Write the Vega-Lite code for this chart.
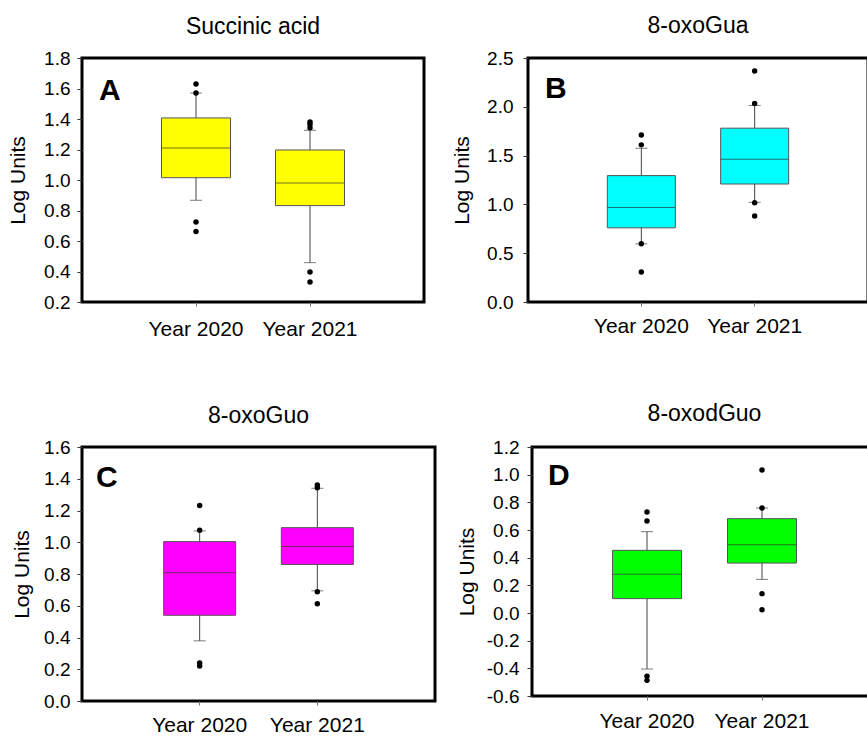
{
  "$schema": "https://vega.github.io/schema/vega-lite/v6.json",
  "background": "white",
  "padding": {"left": 6, "top": 13, "right": 0, "bottom": 0},
  "align": "none",
  "config": {
    "font": "Liberation Sans",
    "view": {"stroke": "black", "strokeWidth": 3},
    "axis": {"grid": false, "domain": false, "labelColor": "black", "titleColor": "black", "labelFont": "Liberation Sans", "titleFont": "Liberation Sans", "labelOverlap": false, "labelFlush": false, "labelBound": false},
    "axisY": {"tickSize": 5, "tickColor": "#333", "labelFontSize": 19, "titleFontSize": 21, "titleFontWeight": "normal", "labelOverlap": false, "tickCount": 20},
    "axisX": {"tickSize": 4, "tickColor": "#777", "labelFontSize": 21, "labelAngle": 0},
    "title": {"fontSize": 23, "fontWeight": "normal", "color": "black", "frame": "group", "anchor": "middle"}
  },
  "datasets": {
    "boxA": [
      {"year": "Year 2020", "lo": 0.867, "q1": 1.015, "median": 1.21, "q3": 1.407, "hi": 1.57},
      {"year": "Year 2021", "lo": 0.458, "q1": 0.832, "median": 0.98, "q3": 1.197, "hi": 1.326}
    ],
    "outA": [
      {"year": "Year 2020", "value": 1.63},
      {"year": "Year 2020", "value": 1.57},
      {"year": "Year 2020", "value": 0.725},
      {"year": "Year 2020", "value": 0.663},
      {"year": "Year 2021", "value": 1.38},
      {"year": "Year 2021", "value": 1.365},
      {"year": "Year 2021", "value": 1.343},
      {"year": "Year 2021", "value": 0.397},
      {"year": "Year 2021", "value": 0.331}
    ],
    "boxB": [
      {"year": "Year 2020", "lo": 0.596, "q1": 0.76, "median": 0.969, "q3": 1.295, "hi": 1.575},
      {"year": "Year 2021", "lo": 1.021, "q1": 1.209, "median": 1.462, "q3": 1.781, "hi": 2.014}
    ],
    "outB": [
      {"year": "Year 2020", "value": 1.712},
      {"year": "Year 2020", "value": 1.61},
      {"year": "Year 2020", "value": 0.596},
      {"year": "Year 2020", "value": 0.308},
      {"year": "Year 2021", "value": 2.366},
      {"year": "Year 2021", "value": 2.034},
      {"year": "Year 2021", "value": 1.017},
      {"year": "Year 2021", "value": 0.88}
    ],
    "boxC": [
      {"year": "Year 2020", "lo": 0.379, "q1": 0.54, "median": 0.808, "q3": 1.004, "hi": 1.071},
      {"year": "Year 2021", "lo": 0.694, "q1": 0.86, "median": 0.973, "q3": 1.092, "hi": 1.34}
    ],
    "outC": [
      {"year": "Year 2020", "value": 1.231},
      {"year": "Year 2020", "value": 1.075},
      {"year": "Year 2020", "value": 0.24},
      {"year": "Year 2020", "value": 0.221},
      {"year": "Year 2021", "value": 1.36},
      {"year": "Year 2021", "value": 1.344},
      {"year": "Year 2021", "value": 0.6875},
      {"year": "Year 2021", "value": 0.6125}
    ],
    "boxD": [
      {"year": "Year 2020", "lo": -0.405, "q1": 0.104, "median": 0.28, "q3": 0.453, "hi": 0.588},
      {"year": "Year 2021", "lo": 0.243, "q1": 0.361, "median": 0.494, "q3": 0.682, "hi": 0.759}
    ],
    "outD": [
      {"year": "Year 2020", "value": 0.73},
      {"year": "Year 2020", "value": 0.665},
      {"year": "Year 2020", "value": -0.458},
      {"year": "Year 2020", "value": -0.487},
      {"year": "Year 2021", "value": 1.034},
      {"year": "Year 2021", "value": 0.759},
      {"year": "Year 2021", "value": 0.14},
      {"year": "Year 2021", "value": 0.024}
    ]
  },
  "vconcat": [
    {
      "hconcat": [
        {
          "title": {"text": "Succinic acid", "offset": 10},
          "width": 342, "height": 244,
          "layer": [
            {
              "data": {"name": "boxA"},
              "mark": {"type": "rule", "color": "#444", "strokeWidth": 1},
              "encoding": {
                "x": {"field": "year", "type": "nominal", "title": null, "scale": {"paddingInner": 0, "paddingOuter": 0.5}, "axis": {"labelPadding": 12}},
                "y": {"field": "lo", "type": "quantitative", "title": "Log Units", "scale": {"domain": [0.2, 1.8], "nice": false, "zero": false}, "axis": {"values": [0.2, 0.4, 0.6, 0.8, 1.0, 1.2, 1.4, 1.6, 1.8], "tickCount": 20, "format": ".1f", "labelOverlap": false, "labelPadding": 7, "titlePadding": 15}},
                "y2": {"field": "hi"}
              }
            },
            {
              "data": {"name": "boxA"},
              "mark": {"type": "tick", "color": "#444", "size": 12, "thickness": 1},
              "encoding": {
                "x": {"field": "year", "type": "nominal", "title": null},
                "y": {"field": "lo", "type": "quantitative", "title": "Log Units"}
              }
            },
            {
              "data": {"name": "boxA"},
              "mark": {"type": "tick", "color": "#444", "size": 12, "thickness": 1},
              "encoding": {
                "x": {"field": "year", "type": "nominal", "title": null},
                "y": {"field": "hi", "type": "quantitative", "title": "Log Units"}
              }
            },
            {
              "data": {"name": "boxA"},
              "mark": {"type": "bar", "size": 69, "fill": "#ffff00", "stroke": "#555", "strokeWidth": 1},
              "encoding": {
                "x": {"field": "year", "type": "nominal", "title": null},
                "y": {"field": "q1", "type": "quantitative", "title": "Log Units"},
                "y2": {"field": "q3"}
              }
            },
            {
              "data": {"name": "boxA"},
              "mark": {"type": "tick", "color": "#333", "size": 69, "thickness": 1},
              "encoding": {
                "x": {"field": "year", "type": "nominal", "title": null},
                "y": {"field": "median", "type": "quantitative", "title": "Log Units"}
              }
            },
            {
              "data": {"name": "outA"},
              "mark": {"type": "point", "filled": true, "color": "black", "size": 30, "opacity": 1},
              "encoding": {
                "x": {"field": "year", "type": "nominal", "title": null},
                "y": {"field": "value", "type": "quantitative", "title": "Log Units"}
              }
            },
            {
              "data": {"values": [{"letter": "A"}]},
              "mark": {"type": "text", "fontSize": 30, "fontWeight": "bold", "align": "left", "baseline": "alphabetic", "color": "black"},
              "encoding": {"text": {"field": "letter"}, "x": {"value": 17}, "y": {"value": 42}}
            }
          ]
        },
        {
          "title": {"text": "8-oxoGua", "offset": 11},
          "width": 340, "height": 244,
          "layer": [
            {
              "data": {"name": "boxB"},
              "mark": {"type": "rule", "color": "#444", "strokeWidth": 1},
              "encoding": {
                "x": {"field": "year", "type": "nominal", "title": null, "scale": {"paddingInner": 0, "paddingOuter": 0.5}, "axis": {"labelPadding": 9}},
                "y": {"field": "lo", "type": "quantitative", "title": "Log Units", "scale": {"domain": [0, 2.5], "nice": false, "zero": false}, "axis": {"values": [0, 0.5, 1.0, 1.5, 2.0, 2.5], "tickCount": 20, "format": ".1f", "labelOverlap": false, "labelPadding": 10, "titlePadding": 14}},
                "y2": {"field": "hi"}
              }
            },
            {
              "data": {"name": "boxB"},
              "mark": {"type": "tick", "color": "#444", "size": 12, "thickness": 1},
              "encoding": {
                "x": {"field": "year", "type": "nominal", "title": null},
                "y": {"field": "lo", "type": "quantitative", "title": "Log Units"}
              }
            },
            {
              "data": {"name": "boxB"},
              "mark": {"type": "tick", "color": "#444", "size": 12, "thickness": 1},
              "encoding": {
                "x": {"field": "year", "type": "nominal", "title": null},
                "y": {"field": "hi", "type": "quantitative", "title": "Log Units"}
              }
            },
            {
              "data": {"name": "boxB"},
              "mark": {"type": "bar", "size": 68, "fill": "#00ffff", "stroke": "#555", "strokeWidth": 1},
              "encoding": {
                "x": {"field": "year", "type": "nominal", "title": null},
                "y": {"field": "q1", "type": "quantitative", "title": "Log Units"},
                "y2": {"field": "q3"}
              }
            },
            {
              "data": {"name": "boxB"},
              "mark": {"type": "tick", "color": "#333", "size": 68, "thickness": 1},
              "encoding": {
                "x": {"field": "year", "type": "nominal", "title": null},
                "y": {"field": "median", "type": "quantitative", "title": "Log Units"}
              }
            },
            {
              "data": {"name": "outB"},
              "mark": {"type": "point", "filled": true, "color": "black", "size": 30, "opacity": 1},
              "encoding": {
                "x": {"field": "year", "type": "nominal", "title": null},
                "y": {"field": "value", "type": "quantitative", "title": "Log Units"}
              }
            },
            {
              "data": {"values": [{"letter": "B"}]},
              "mark": {"type": "text", "fontSize": 30, "fontWeight": "bold", "align": "left", "baseline": "alphabetic", "color": "black"},
              "encoding": {"text": {"field": "letter"}, "x": {"value": 17}, "y": {"value": 40}}
            }
          ]
        }
      ],
      "spacing": 24
    },
    {
      "hconcat": [
        {
          "title": {"text": "8-oxoGuo", "offset": 10},
          "width": 353, "height": 254,
          "layer": [
            {
              "data": {"name": "boxC"},
              "mark": {"type": "rule", "color": "#444", "strokeWidth": 1},
              "encoding": {
                "x": {"field": "year", "type": "nominal", "title": null, "scale": {"paddingInner": 0, "paddingOuter": 0.5}, "axis": {"labelPadding": 9}},
                "y": {"field": "lo", "type": "quantitative", "title": "Log Units", "scale": {"domain": [0, 1.6], "nice": false, "zero": false}, "axis": {"values": [0, 0.2, 0.4, 0.6, 0.8, 1.0, 1.2, 1.4, 1.6], "tickCount": 20, "format": ".1f", "labelOverlap": false, "labelPadding": 7, "titlePadding": 11}},
                "y2": {"field": "hi"}
              }
            },
            {
              "data": {"name": "boxC"},
              "mark": {"type": "tick", "color": "#444", "size": 12, "thickness": 1},
              "encoding": {
                "x": {"field": "year", "type": "nominal", "title": null},
                "y": {"field": "lo", "type": "quantitative", "title": "Log Units"}
              }
            },
            {
              "data": {"name": "boxC"},
              "mark": {"type": "tick", "color": "#444", "size": 12, "thickness": 1},
              "encoding": {
                "x": {"field": "year", "type": "nominal", "title": null},
                "y": {"field": "hi", "type": "quantitative", "title": "Log Units"}
              }
            },
            {
              "data": {"name": "boxC"},
              "mark": {"type": "bar", "size": 72, "fill": "#ff00ff", "stroke": "#555", "strokeWidth": 1},
              "encoding": {
                "x": {"field": "year", "type": "nominal", "title": null},
                "y": {"field": "q1", "type": "quantitative", "title": "Log Units"},
                "y2": {"field": "q3"}
              }
            },
            {
              "data": {"name": "boxC"},
              "mark": {"type": "tick", "color": "#333", "size": 72, "thickness": 1},
              "encoding": {
                "x": {"field": "year", "type": "nominal", "title": null},
                "y": {"field": "median", "type": "quantitative", "title": "Log Units"}
              }
            },
            {
              "data": {"name": "outC"},
              "mark": {"type": "point", "filled": true, "color": "black", "size": 30, "opacity": 1},
              "encoding": {
                "x": {"field": "year", "type": "nominal", "title": null},
                "y": {"field": "value", "type": "quantitative", "title": "Log Units"}
              }
            },
            {
              "data": {"values": [{"letter": "C"}]},
              "mark": {"type": "text", "fontSize": 30, "fontWeight": "bold", "align": "left", "baseline": "alphabetic", "color": "black"},
              "encoding": {"text": {"field": "letter"}, "x": {"value": 14}, "y": {"value": 40}}
            }
          ]
        },
        {
          "title": {"text": "8-oxodGuo", "offset": 12},
          "width": 345, "height": 249,
          "layer": [
            {
              "data": {"name": "boxD"},
              "mark": {"type": "rule", "color": "#444", "strokeWidth": 1},
              "encoding": {
                "x": {"field": "year", "type": "nominal", "title": null, "scale": {"paddingInner": 0, "paddingOuter": 0.5}, "axis": {"labelPadding": 10}},
                "y": {"field": "lo", "type": "quantitative", "title": "Log Units", "scale": {"domain": [-0.6, 1.2], "nice": false, "zero": false}, "axis": {"values": [-0.6, -0.4, -0.2, 0, 0.2, 0.4, 0.6, 0.8, 1.0, 1.2], "tickCount": 20, "labelExpr": "replace(format(datum.value, '.1f'), '\u2212', '-')", "labelOverlap": false, "labelPadding": 8, "titlePadding": 9}},
                "y2": {"field": "hi"}
              }
            },
            {
              "data": {"name": "boxD"},
              "mark": {"type": "tick", "color": "#444", "size": 12, "thickness": 1},
              "encoding": {
                "x": {"field": "year", "type": "nominal", "title": null},
                "y": {"field": "lo", "type": "quantitative", "title": "Log Units"}
              }
            },
            {
              "data": {"name": "boxD"},
              "mark": {"type": "tick", "color": "#444", "size": 12, "thickness": 1},
              "encoding": {
                "x": {"field": "year", "type": "nominal", "title": null},
                "y": {"field": "hi", "type": "quantitative", "title": "Log Units"}
              }
            },
            {
              "data": {"name": "boxD"},
              "mark": {"type": "bar", "size": 69, "fill": "#00ff00", "stroke": "#555", "strokeWidth": 1},
              "encoding": {
                "x": {"field": "year", "type": "nominal", "title": null},
                "y": {"field": "q1", "type": "quantitative", "title": "Log Units"},
                "y2": {"field": "q3"}
              }
            },
            {
              "data": {"name": "boxD"},
              "mark": {"type": "tick", "color": "#333", "size": 69, "thickness": 1},
              "encoding": {
                "x": {"field": "year", "type": "nominal", "title": null},
                "y": {"field": "median", "type": "quantitative", "title": "Log Units"}
              }
            },
            {
              "data": {"name": "outD"},
              "mark": {"type": "point", "filled": true, "color": "black", "size": 30, "opacity": 1},
              "encoding": {
                "x": {"field": "year", "type": "nominal", "title": null},
                "y": {"field": "value", "type": "quantitative", "title": "Log Units"}
              }
            },
            {
              "data": {"values": [{"letter": "D"}]},
              "mark": {"type": "text", "fontSize": 30, "fontWeight": "bold", "align": "left", "baseline": "alphabetic", "color": "black"},
              "encoding": {"text": {"field": "letter"}, "x": {"value": 16}, "y": {"value": 38}}
            }
          ]
        }
      ],
      "spacing": 17
    }
  ],
  "spacing": 60
}
